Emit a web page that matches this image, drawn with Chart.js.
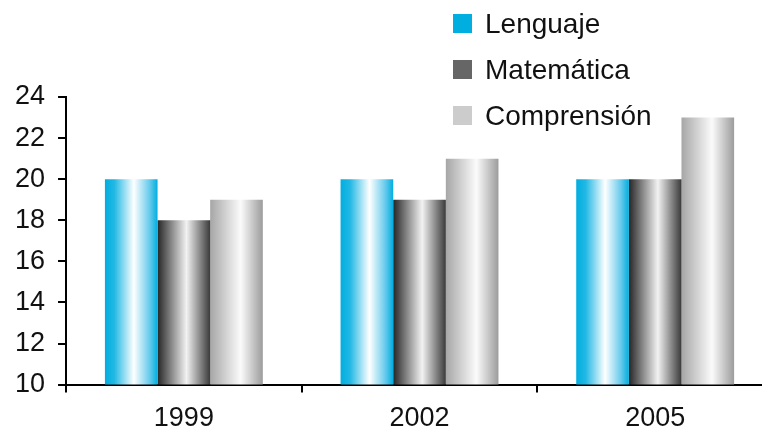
<!DOCTYPE html>
<html>
<head>
<meta charset="utf-8">
<script src="https://cdn.jsdelivr.net/npm/chart.js@4"></script>
<style>
  body { margin: 0; overflow: hidden; background: #fff; }
  #wrap { width: 780px; height: 445px; }
</style>
</head>
<body>
<div id="wrap"><canvas id="myChart"></canvas></div>
<script>
const years = ['1999', '2002', '2005'];
const lenguaje = [20, 20, 20];
const matematica = [18, 19, 20];
const comprension = [19, 21, 23];
const yTicks = [10, 12, 14, 16, 18, 20, 22, 24];

// gradient stops per series (left -> right across a bar)
const shades = [
  [[0, '#00aee0'], [0.18, '#22b8e4'], [0.55, '#ffffff'], [0.85, '#66caec'], [1, '#00aee0']],
  [[0, '#262626'], [0.55, '#f2f2f2'], [1, '#3a3a3a']],
  [[0, '#a6a6a6'], [0.58, '#fbfbfb'], [1, '#9c9c9c']]
];
const keyColors = ['#00aee0', '#666666', '#cccccc'];
const font = 'Liberation Sans, Arial, Helvetica, sans-serif';
const catPct = 0.67;

// each bar gets its own horizontal gradient, worked out from the x scale
function shade(context) {
  const chart = context.chart;
  const xs = chart.scales.x;
  if (!xs || !xs.width || context.dataIndex === undefined) return keyColors[context.datasetIndex];
  const n = chart.data.datasets.length;
  const group = (xs.width / chart.data.labels.length) * catPct;
  const w = group / n;
  const left = xs.getPixelForValue(context.dataIndex) - group / 2 + context.datasetIndex * w;
  const g = chart.ctx.createLinearGradient(left, 0, left + w, 0);
  shades[context.datasetIndex].forEach(s => g.addColorStop(s[0], s[1]));
  return g;
}

const sideLegend = {
  id: 'sideLegend',
  afterDraw(chart) {
    const c = chart.ctx;
    c.save();
    c.font = '28px ' + font;
    c.textBaseline = 'middle';
    chart.data.datasets.forEach((ds, i) => {
      const y = 14 + i * 46;
      c.fillStyle = keyColors[i];
      c.fillRect(453, y, 19, 19);
      c.fillStyle = '#111';
      c.fillText(ds.label, 485, y + 11);
    });
    c.restore();
  }
};

const ctx = document.getElementById('myChart');

new Chart(ctx, {
  type: 'bar',
  data: {
    labels: years,
    datasets: [
      { label: 'Lenguaje', data: lenguaje, backgroundColor: shade },
      { label: 'Matemática', data: matematica, backgroundColor: shade },
      { label: 'Comprensión', data: comprension, backgroundColor: shade }
    ]
  },
  options: {
    responsive: true,
    maintainAspectRatio: false,
    animation: false,
    datasets: {
      bar: { barPercentage: 1, categoryPercentage: catPct }
    },
    layout: {
      padding: { top: 97, left: 2, right: 7, bottom: 0 }
    },
    plugins: {
      legend: { display: false },
      tooltip: { enabled: false },
      colors: { enabled: false }
    },
    scales: {
      x: {
        grid: { drawOnChartArea: false, color: '#000', lineWidth: 2, tickLength: 8, offset: true },
        border: { color: '#000', width: 2 },
        ticks: { color: '#111', padding: 10, font: { size: 27, family: font } }
      },
      y: {
        min: 10,
        max: 24,
        afterBuildTicks(axis) { axis.ticks = yTicks.map(v => ({ value: v })); },
        grid: { drawOnChartArea: false, color: '#000', lineWidth: 2, tickLength: 8 },
        border: { color: '#000', width: 2 },
        ticks: { color: '#111', padding: 13, font: { size: 27, family: font } }
      }
    }
  },
  plugins: [sideLegend]
});
</script>
</body>
</html>
